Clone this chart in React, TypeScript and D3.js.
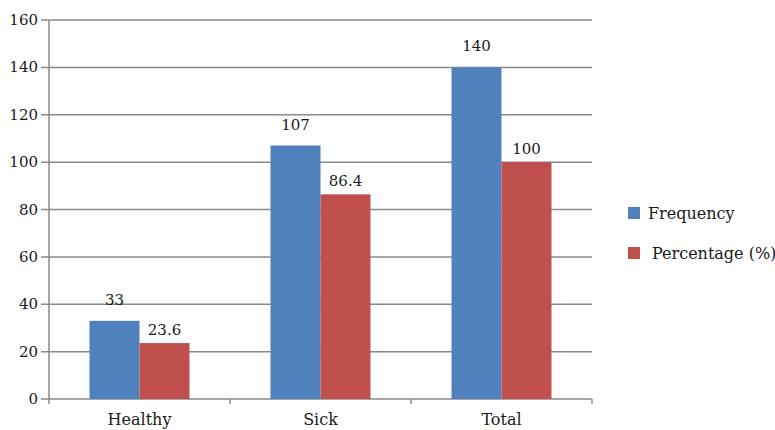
import { useEffect, useRef } from "react";
import * as d3 from "d3";

const categories = ["Healthy", "Sick", "Total"];
const seriesNames = ["Frequency", "Percentage (%)"];
const frequency = [33, 107, 140];
const percentage = [23.6, 86.4, 100];
const yTicks = [0, 20, 40, 60, 80, 100, 120, 140, 160];

const colors = ["#4f81bd", "#c0504d"];
const font = "'DejaVu Serif', serif";

export default function App() {
  const ref = useRef<SVGSVGElement>(null);

  useEffect(() => {
    const left = 49;
    const right = 592;
    const top = 20;
    const bottom = 399;

    const svg = d3.select(ref.current);
    svg.selectAll("*").remove();

    const x = d3.scaleBand().domain(categories).range([left, right]).padding(0);
    const xs = d3.scaleBand().domain(seriesNames).range([0, x.bandwidth()])
      .paddingInner(0).paddingOuter(0.81);
    const y = d3.scaleLinear().domain([0, 160]).range([bottom, top]);

    // gridlines
    svg.append("g")
      .selectAll("line")
      .data(yTicks)
      .enter()
      .append("line")
      .attr("x1", left - 8)
      .attr("x2", right)
      .attr("y1", d => y(d))
      .attr("y2", d => y(d))
      .attr("stroke", "#8a8a8a")
      .attr("stroke-width", 1.5);

    // y axis line
    svg.append("line")
      .attr("x1", left).attr("x2", left)
      .attr("y1", top).attr("y2", bottom)
      .attr("stroke", "#8a8a8a").attr("stroke-width", 1.5);

    // x ticks at category boundaries
    const bounds = categories.map(c => x(c)!).concat([right]);
    svg.append("g")
      .selectAll("line")
      .data(bounds)
      .enter()
      .append("line")
      .attr("x1", d => d).attr("x2", d => d)
      .attr("y1", bottom).attr("y2", bottom + 5)
      .attr("stroke", "#8a8a8a").attr("stroke-width", 1.5);

    // y tick labels
    svg.append("g")
      .selectAll("text")
      .data(yTicks)
      .enter()
      .append("text")
      .attr("x", left - 11)
      .attr("y", d => y(d) + 5)
      .attr("text-anchor", "end")
      .attr("font-family", font)
      .attr("font-size", 15)
      .attr("fill", "#1a1a1a")
      .text(d => d);

    // category labels
    svg.append("g")
      .selectAll("text")
      .data(categories)
      .enter()
      .append("text")
      .attr("x", d => x(d)! + x.bandwidth() / 2)
      .attr("y", 425)
      .attr("text-anchor", "middle")
      .attr("font-family", font)
      .attr("font-size", 16)
      .attr("fill", "#1a1a1a")
      .text(d => d);

    const series = [frequency, percentage];
    const labelGap = [16, 8];

    series.forEach((vals, si) => {
      const g = svg.append("g");
      g.selectAll("rect")
        .data(vals)
        .enter()
        .append("rect")
        .attr("x", (d, i) => x(categories[i])! + xs(seriesNames[si])!)
        .attr("y", d => y(d))
        .attr("width", xs.bandwidth())
        .attr("height", d => bottom - y(d))
        .attr("fill", colors[si]);

      g.selectAll("text")
        .data(vals)
        .enter()
        .append("text")
        .attr("x", (d, i) => x(categories[i])! + xs(seriesNames[si])! + xs.bandwidth() / 2)
        .attr("y", d => y(d) - labelGap[si])
        .attr("text-anchor", "middle")
        .attr("font-family", font)
        .attr("font-size", 15)
        .attr("fill", "#1a1a1a")
        .text(d => d);
    });

    // legend
    const legend = svg.append("g");
    seriesNames.forEach((name, i) => {
      const ly = 213 + i * 40;
      legend.append("rect")
        .attr("x", 628).attr("y", ly - 6)
        .attr("width", 12).attr("height", 12)
        .attr("fill", colors[i]);
      legend.append("text")
        .attr("x", i === 0 ? 648 : 652)
        .attr("y", ly + 6)
        .attr("font-family", font)
        .attr("font-size", 16)
        .attr("fill", "#1a1a1a")
        .text(name);
    });
  }, []);

  return (
    <svg
      ref={ref}
      width={775}
      height={430}
      style={{ position: "absolute", left: 0, top: 0, background: "#fff" }}
    ></svg>
  );
}
